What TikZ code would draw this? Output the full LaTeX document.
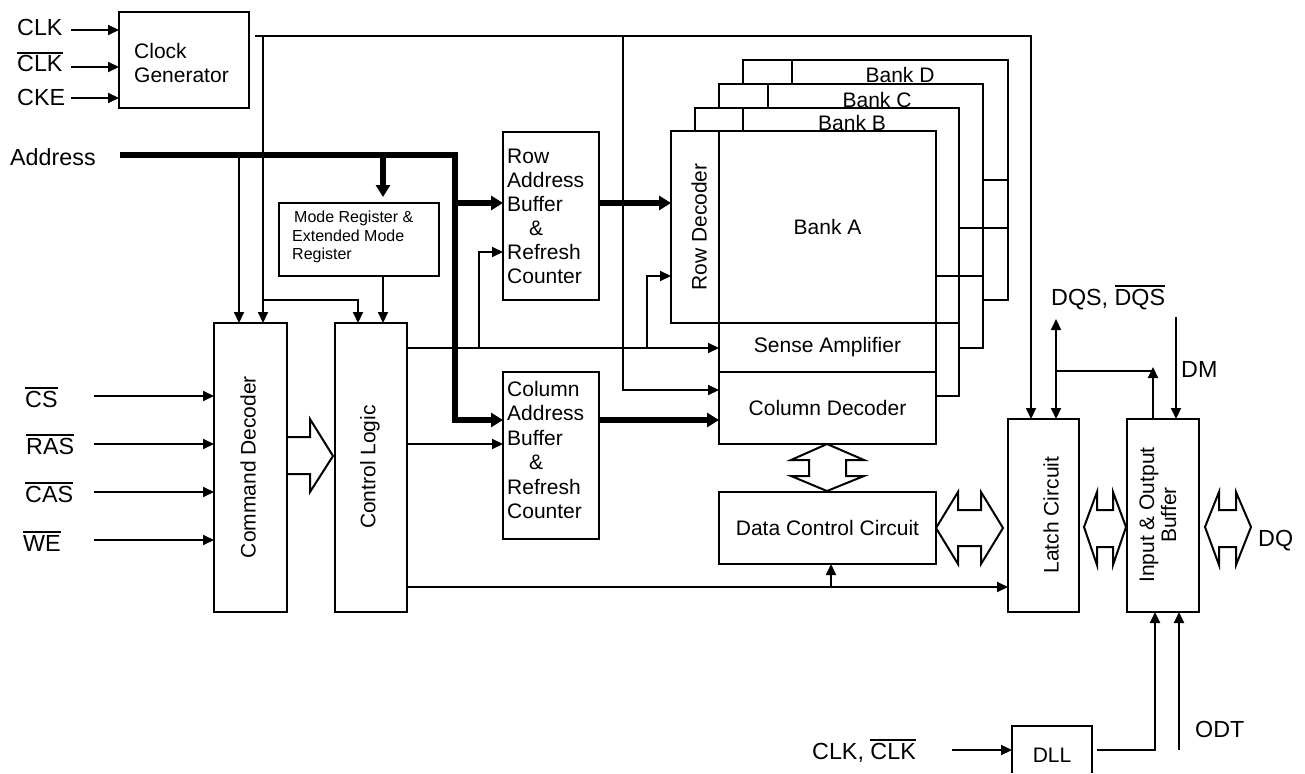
\documentclass[tikz,border=0pt]{standalone}
\usepackage{fontspec}
\setmainfont{Liberation Sans}
\usetikzlibrary{arrows.meta}
\newcommand{\myovl}[1]{\setbox0\hbox{#1}\rlap{\rule[\dimexpr\ht0+2pt\relax]{\wd0}{1.6pt}}\box0}
\begin{document}
\begin{tikzpicture}[x=1pt,y=-1pt,
 box/.style={draw, line width=2pt, inner sep=0pt, outer sep=0pt, anchor=north west},
 ln/.style={line width=2pt},
 arr/.style={line width=2pt, -{Triangle[length=11pt,width=10pt]}},
 darr/.style={line width=2pt, {Triangle[length=11pt,width=10pt]}-{Triangle[length=11pt,width=10pt]}},
 tarr/.style={line width=5.5pt, -{Triangle[length=12pt,width=14pt]}},
 lbl/.style={font=\fontsize{23.3}{28}\selectfont, inner sep=0pt, anchor=base west},
 txt/.style={font=\fontsize{21}{24}\selectfont, inner sep=0pt},
 small/.style={font=\fontsize{16}{18.5}\selectfont, inner sep=0pt},
 blk/.style={line width=2pt, fill=white, line join=miter}]
\fill[white] (0,0) rectangle (1305,773);
\useasboundingbox (0,0) rectangle (1305,773);

% ---------- boxes ----------
\node[box, minimum width=130pt, minimum height=96pt] (cg) at (119,12) {};
\node[txt, anchor=north west, align=left] at (134,43) {Clock\\Generator};
\node[box, minimum width=160pt, minimum height=73pt] (mr) at (279,203) {};
\node[small, anchor=north west, align=left] at (292,211) {\hspace*{2pt}Mode Register \&\\Extended Mode\\Register};
\node[box, minimum width=73pt, minimum height=289pt] (cmd) at (214,323) {};
\node[txt, rotate=90] at (248,467) {Command Decoder};
\node[box, minimum width=72pt, minimum height=289pt] (ctl) at (335,323) {};
\node[txt, rotate=90] at (370,467) {Control Logic};
\node[box, minimum width=96pt, minimum height=168pt] (rab) at (503,132) {};
\node[txt, anchor=north west, align=left] at (507,149) {Row\\Address\\Buffer\\\hspace*{22pt}\&\\Refresh\\Counter};
\node[box, minimum width=96pt, minimum height=167pt] (cab) at (503,372) {};
\node[txt, anchor=north west, align=left, font=\fontsize{21}{24.5}\selectfont] at (507,381) {Column\\Address\\Buffer\\\hspace*{22pt}\&\\Refresh\\Counter};

% banks behind
\draw[ln] (743,84) -- (743,60) -- (1008,60) -- (1008,300) -- (983,300);
\draw[ln] (792,60) -- (792,84);
\draw[ln] (983,180) -- (1008,180) (959,228) -- (1008,228);
\draw[ln] (719,108) -- (719,84) -- (983,84) -- (983,348) -- (959,348);
\draw[ln] (768,84) -- (768,108);
\draw[ln] (936,276) -- (983,276);
\draw[ln] (695,131) -- (695,108) -- (959,108) -- (959,396) -- (936,396);
\draw[ln] (743,108) -- (743,131);
\draw[ln] (936,323) -- (959,323);
\node[txt, anchor=base] at (852,130) {Bank B};
\node[txt, anchor=base] at (877,107) {Bank C};
\node[txt, anchor=base] at (900,83) {Bank D};

\node[box, minimum width=48pt, minimum height=192pt] (rd) at (671,131) {};
\node[txt, rotate=90] at (699,227) {Row Decoder};
\node[box, txt, anchor=north west, minimum width=217pt, minimum height=192pt] (ba) at (719,131) {Bank A};
\node[box, txt, anchor=north west, minimum width=217pt, minimum height=49pt] (sa) at (719,323) {Sense Amplifier};
\node[box, txt, anchor=north west, minimum width=217pt, minimum height=72pt] (cd) at (719,372) {Column Decoder};
\node[box, txt, anchor=north west, minimum width=217pt, minimum height=72pt] (dcc) at (719,492) {Data Control Circuit};
\node[box, minimum width=71pt, minimum height=193pt] (lat) at (1008,419) {};
\node[txt, rotate=90] at (1051,515) {Latch Circuit};
\node[box, minimum width=72pt, minimum height=193pt] (iob) at (1127,419) {};
\node[txt, rotate=90, align=center, font=\fontsize{21}{22}\selectfont] at (1158,515) {Input \& Output\\Buffer};
\node[inner sep=0pt, outer sep=0pt, anchor=north west, minimum width=80pt, minimum height=47pt] (dll) at (1012,726) {};
\draw[ln] (dll.south west) -- (dll.north west) -- (dll.north east) -- (dll.south east);
\node[txt, anchor=base] at (1052,762) {DLL};

% ---------- labels ----------
\node[lbl] (lclk) at (17,36) {CLK};
\node[lbl] (lclkb) at (17,72) {\myovl{CLK}};
\node[lbl] (lcke) at (17,106) {CKE};
\node[lbl] (laddr) at (10,165) {Address};
\node[lbl] (lcs) at (25,407) {\myovl{CS}};
\node[lbl] (lras) at (26,454) {\myovl{RAS}};
\node[lbl] (lcas) at (25,502) {\myovl{CAS}};
\node[lbl] (lwe) at (23,551) {\myovl{WE}};
\node[lbl] (ldqs) at (1051,305) {DQS, \myovl{DQS}};
\node[lbl] (ldm) at (1181,377) {DM};
\node[lbl] (ldq) at (1258,546) {DQ};
\node[lbl] (ldllin) at (812,759) {CLK, \myovl{CLK}};
\node[lbl] (lodt) at (1195,737) {ODT};

% ---------- coordinates ----------
\coordinate (i1) at (71,30); \coordinate (i2) at (71,67); \coordinate (i3) at (71,98);
\coordinate (addrS) at (120,155); \coordinate (aC) at (455,155);
\coordinate (aR) at (455,203); \coordinate (aD) at (455,420);
\coordinate (aM) at (383,155); \coordinate (aMe) at (383,197); \coordinate (aCmd) at (239,155);
\coordinate (ck0) at (255,36); \coordinate (ck1) at (1031,36);
\coordinate (ckA) at (263,36); \coordinate (ckB) at (263,300); \coordinate (ckC) at (358,300);
\coordinate (ckD) at (623,36); \coordinate (ckE) at (623,390);
\coordinate (j1) at (479,348); \coordinate (j1u) at (479,252);
\coordinate (j2) at (647,348); \coordinate (j2u) at (647,276);
\coordinate (j3) at (450,444); \coordinate (j4) at (831,587);
\coordinate (j5) at (600,203); \coordinate (j6) at (600,420);
\coordinate (cs) at (94,396); \coordinate (ras) at (94,444); \coordinate (cas) at (94,492); \coordinate (we) at (94,540);
\coordinate (dq1) at (1056,319); \coordinate (dq2) at (1056,371); \coordinate (dq3) at (1153,367);
\coordinate (dm) at (1176,317);
\coordinate (dl) at (952,750); \coordinate (do) at (1155,750); \coordinate (odt) at (1179,750);

% ---------- connectors ----------
\draw[arr] (i1) -- (i1 -| cg.west);
\draw[arr] (i2) -- (i2 -| cg.west);
\draw[arr] (i3) -- (i3 -| cg.west);

\draw[arr] (ck0) -- (ck1) -- (ck1 |- lat.north);
\draw[arr] (ckA) -- (ckA |- cmd.north);
\draw[arr] (ckB) -- (ckC) -- (ckC |- ctl.north);
\draw[arr] (ckD) -- (ckE) -- (ckE -| cd.west);

\draw[tarr] (addrS) -- (aC) -- (aD) -- (aD -| cab.west);
\draw[tarr] (aR) -- (aR -| rab.west);
\draw[tarr] (aM) -- (aMe);
\draw[arr] (aCmd) -- (aCmd |- cmd.north);
\draw[arr] (aM |- mr.south) -- (aM |- ctl.north);

\draw[arr] (cs) -- (cs -| cmd.west);
\draw[arr] (ras) -- (ras -| cmd.west);
\draw[arr] (cas) -- (cas -| cmd.west);
\draw[arr] (we) -- (we -| cmd.west);

\draw[arr] (j1 -| ctl.east) -- (j1 -| sa.west);
\draw[arr] (j1) -- (j1u) -- (j1u -| rab.west);
\draw[arr] (j2) -- (j2u) -- (j2u -| rd.west);
\draw[arr] (j3 -| ctl.east) -- (j3 -| cab.west);
\draw[arr] (j4 -| ctl.east) -- (j4 -| lat.west);
\draw[arr] (j4) -- (j4 |- dcc.south);

\draw[tarr] (j5 -| rab.east) -- (j5 -| rd.west);
\draw[tarr] (j6 -| cab.east) -- (j6 -| cd.west);

\draw[darr] (dq1) -- (dq1 |- lat.north);
\draw[ln] (dq2) -- (dq2 -| dq3);
\draw[arr] (dq3 |- iob.north) -- (dq3);
\draw[arr] (dm) -- (dm |- iob.north);

\draw[arr] (dl) -- (dl -| dll.west);
\draw[arr] ([xshift=5pt]dll.east |- do) -- (do) -- (do |- iob.south);
\draw[arr] (odt) -- (odt |- iob.south);

% ---------- block arrows ----------
\draw[blk, fill=none] (287,437) -- (310,437) -- (310,419) -- (333,456) -- (310,492) -- (310,474) -- (287,474);
\draw[blk] (791,460) -- (827,444) -- (864,460) -- (846,460) -- (846,476) -- (864,476) -- (827,491) -- (791,476) -- (809,476) -- (809,460) -- cycle;
\draw[blk] (936,528) -- (958,492) -- (958,510) -- (981,510) -- (981,492) -- (1003,528) -- (981,564) -- (981,546) -- (958,546) -- (958,564) -- cycle;
\draw[blk] (1084,527) -- (1097,492) -- (1097,510) -- (1113,510) -- (1113,492) -- (1126,527) -- (1113,565) -- (1113,547) -- (1097,547) -- (1097,565) -- cycle;
\draw[blk] (1205,527) -- (1219,492) -- (1219,510) -- (1236,510) -- (1236,492) -- (1251,527) -- (1236,565) -- (1236,547) -- (1219,547) -- (1219,565) -- cycle;
\end{tikzpicture}
\end{document}
